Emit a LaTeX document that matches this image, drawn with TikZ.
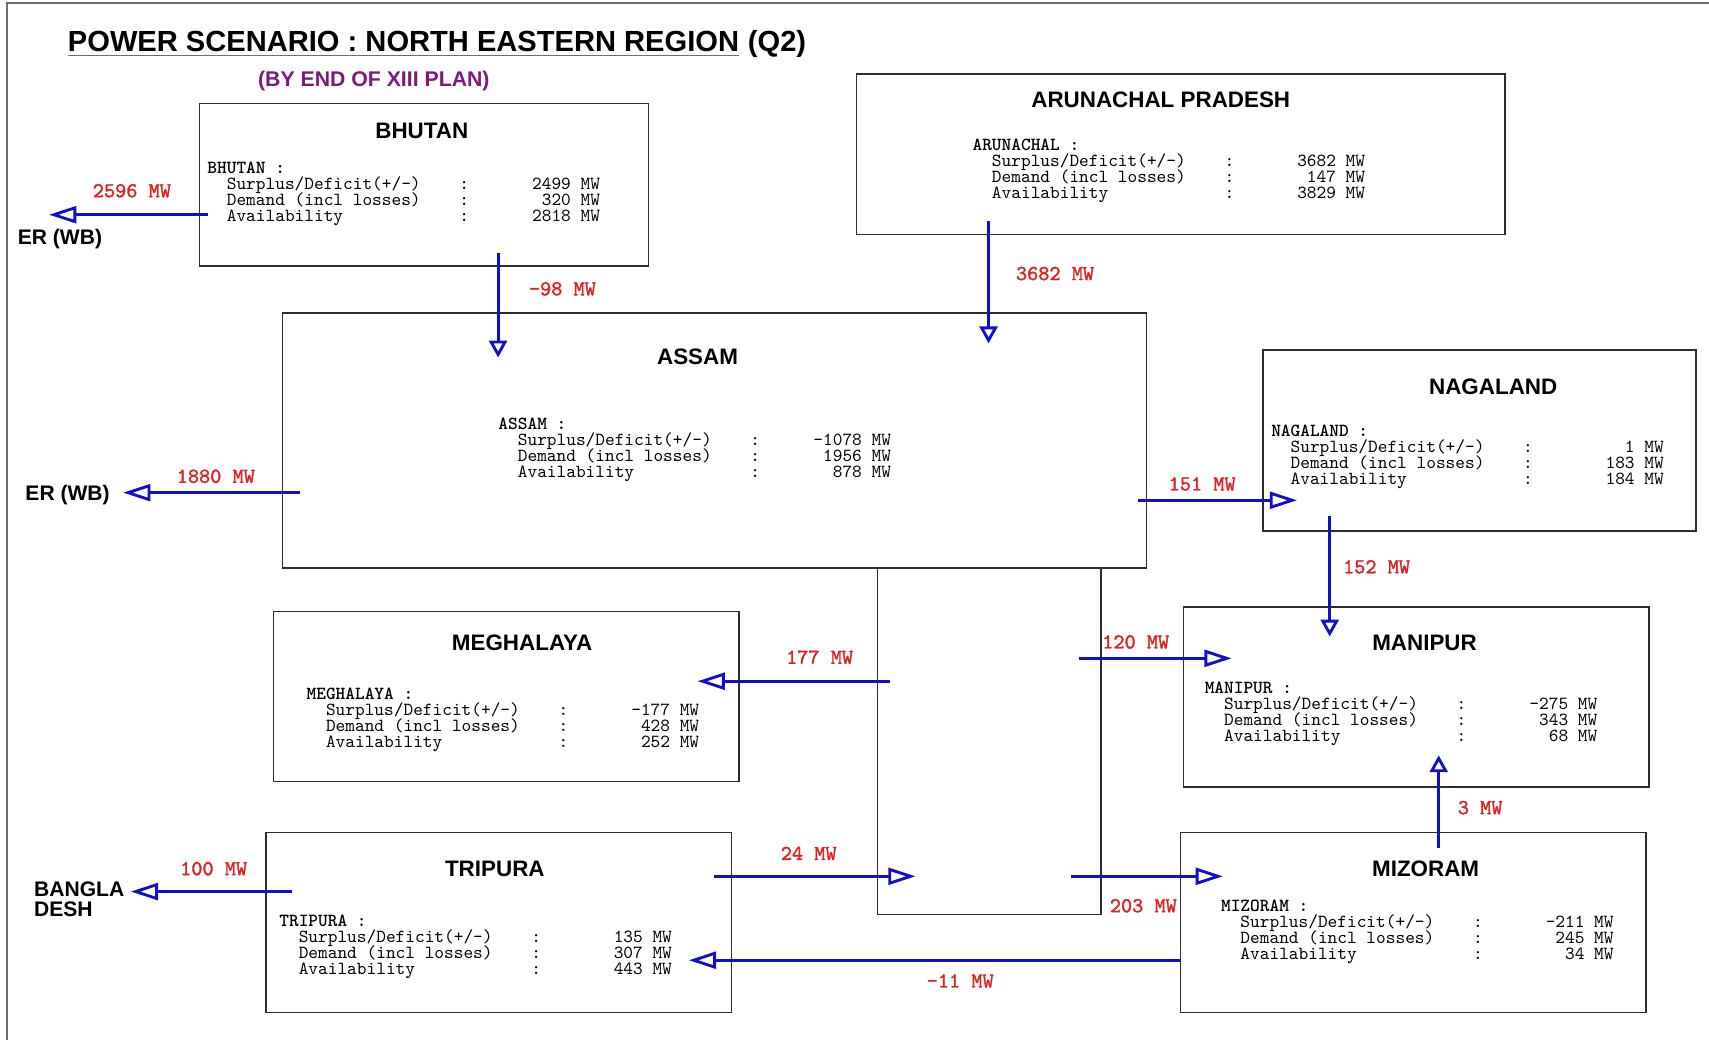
\documentclass[tikz,border=0pt]{standalone}
\usepackage{fontspec}
\setmainfont{Liberation Sans}
\newfontfamily\lblfont[FakeBold=1.6]{lmmono10-regular.otf}
\usetikzlibrary{arrows.meta, fit, calc}

\definecolor{flowblue}{RGB}{15,15,205}
\definecolor{flowred}{RGB}{222,34,34}
\definecolor{planpurple}{RGB}{125,25,125}
\definecolor{framegray}{RGB}{110,110,110}
\definecolor{boxgray}{RGB}{45,45,45}

\newlength\cw
\newcommand\statfont{\ttfamily\fontsize{9.64pt}{8.35pt}\selectfont\settowidth\cw{0}\lineskiplimit=-10pt\relax}
\newcommand\statrow[2]{\hspace*{2\cw}\makebox[24\cw][l]{#1}:\makebox[13.5\cw][r]{#2}}
\newcommand\stats[4]{{\fontseries{b}\selectfont #1 :}\\
    \statrow{Surplus/Deficit(+/-)}{#2 MW}\\
    \statrow{Demand (incl losses)}{#3 MW}\\
    \statrow{Availability}{#4 MW}}

\begin{document}
\begin{tikzpicture}[x=0.02cm, y=-0.02cm,
    heading/.style={inner sep=0pt, font=\fontsize{15.2pt}{18pt}\selectfont\bfseries},
    planlbl/.style={inner sep=0pt, text=planpurple, font=\fontsize{11.1pt}{13pt}\selectfont\bfseries},
    statebox/.style={draw=boxgray, line width=0.8pt, inner sep=0pt},
    statename/.style={font=\fontsize{11.7pt}{14pt}\selectfont\bfseries},
    statdata/.style={anchor=north west, align=left, inner sep=0pt, font=\statfont},
    extname/.style={inner sep=0pt, font=\fontsize{11pt}{10.2pt}\selectfont\bfseries},
    flowlbl/.style={text=flowred, font=\lblfont\fontsize{11.1pt}{13pt}\selectfont},
    flowh/.style={flowblue, line width=1.5pt, -{Triangle[open, length=0.5cm, width=0.31cm]}},
    flowv/.style={flowblue, line width=1.5pt, -{Triangle[open, length=0.31cm, width=0.33cm]}}]
    \useasboundingbox (0,0) rectangle (1568,954);

    % frame of the slide
    \draw[framegray, line width=1pt] (6.5,954) -- (6.5,2.5) -- (1568,2.5);

    \node[heading, anchor=base west] (ttl) at (62,47) {POWER SCENARIO : NORTH EASTERN REGION};
    \node[heading, anchor=base west] (ttlq) at (ttl.base east) {\ (Q2)};
    \draw[framegray, line width=0.6pt] ($(ttl.base west)+(0,4)$) -- ($(ttl.base east)+(0,4)$);
    \node[planlbl, anchor=base] (plan) at (343,79) {(BY END OF XIII PLAN)};

    % states
    \node[statebox, fit={(183,95) (595,244)}] (bhutan) {};
    \node[statebox, fit={(786,68) (1381,215)}] (arunachal) {};
    \node[statebox, fit={(259,287) (1052,521)}] (assam) {};
    \node[statebox, fit={(1159,321) (1556,487)}] (nagaland) {};
    \node[statebox, fit={(805,521) (1010,839)}] (hub) {};
    \node[statebox, fit={(251,561) (678,717)}] (meghalaya) {};
    \node[statebox, fit={(1086,557) (1513,722)}] (manipur) {};
    \node[statebox, fit={(244,764) (671,929)}] (tripura) {};
    \node[statebox, fit={(1083,764) (1510,929)}] (mizoram) {};

    \node[statename] (bhutanT) at (387,120) {BHUTAN};
    \node[statename] (arunachalT) at (1065,92) {ARUNACHAL PRADESH};
    \node[statename] (assamT) at (640,327) {ASSAM};
    \node[statename] (nagalandT) at (1370,355) {NAGALAND};
    \node[statename] (meghalayaT) at (479,590) {MEGHALAYA};
    \node[statename] (manipurT) at (1307,590) {MANIPUR};
    \node[statename] (tripuraT) at (454,797) {TRIPURA};
    \node[statename] (mizoramT) at (1308,797) {MIZORAM};

    \node[statdata] (bhutanD) at (190,148) {\stats{BHUTAN}{2499}{320}{2818}};
    \node[statdata] (arunachalD) at (892,127) {\stats{ARUNACHAL}{3682}{147}{3829}};
    \node[statdata] (assamD) at (457,383) {\stats{ASSAM}{-1078}{1956}{878}};
    \node[statdata] (nagalandD) at (1166,390) {\stats{NAGALAND}{1}{183}{184}};
    \node[statdata] (meghalayaD) at (281,631) {\stats{MEGHALAYA}{-177}{428}{252}};
    \node[statdata] (manipurD) at (1105,625) {\stats{MANIPUR}{-275}{343}{68}};
    \node[statdata] (tripuraD) at (256,839) {\stats{TRIPURA}{135}{307}{443}};
    \node[statdata] (mizoramD) at (1120,825) {\stats{MIZORAM}{-211}{245}{34}};

    % neighbours
    \node[extname, anchor=base west] (erwbA) at (16,224) {ER (WB)};
    \node[extname, anchor=base west] (erwbB) at (23,459) {ER (WB)};
    \node[extname, anchor=north west, align=left] (bangla) at (31,809) {BANGLA\\DESH};

    % ends of the flows
    \coordinate (bhutanW) at (191,197);   \coordinate (erwbAin) at (45,197);
    \coordinate (bhutanS) at (457,232);   \coordinate (assamNW) at (457,328);
    \coordinate (arunachalS) at (907,203);\coordinate (assamNE) at (907,315);
    \coordinate (assamW) at (275,452);    \coordinate (erwbBin) at (113,452);
    \coordinate (assamE) at (1044,459);   \coordinate (nagalandW) at (1190,459);
    \coordinate (nagalandS) at (1220,473);\coordinate (manipurN) at (1220,584);
    \coordinate (hubW) at (817,625);      \coordinate (meghalayaE) at (640,625);
    \coordinate (hubNE) at (990,604);     \coordinate (manipurW) at (1130,604);
    \coordinate (tripuraE) at (655,804);  \coordinate (hubSW) at (840,804);
    \coordinate (hubSE) at (983,804);     \coordinate (mizoramW) at (1122,804);
    \coordinate (mizoramSW) at (1083,881);\coordinate (tripuraSE) at (632,881);
    \coordinate (mizoramN) at (1320,778); \coordinate (manipurS) at (1320,693);
    \coordinate (tripuraW) at (268,818);  \coordinate (banglaE) at (120,818);

    \draw[flowh] (bhutanW) -- (erwbAin);
    \draw[flowv] (bhutanS) -- (assamNW);
    \draw[flowv] (arunachalS) -- (assamNE);
    \draw[flowh] (assamW) -- (erwbBin);
    \draw[flowh] (assamE) -- (nagalandW);
    \draw[flowv] (nagalandS) -- (manipurN);
    \draw[flowh] (hubW) -- (meghalayaE);
    \draw[flowh] (hubNE) -- (manipurW);
    \draw[flowh] (tripuraE) -- (hubSW);
    \draw[flowh] (hubSE) -- (mizoramW);
    \draw[flowh] (mizoramSW) -- (tripuraSE);
    \draw[flowv] (mizoramN) -- (manipurS);
    \draw[flowh] (tripuraW) -- (banglaE);

    \node[flowlbl] (bhutanErwbL) at (121,175) {2596 MW};
    \node[flowlbl] (bhutanAssamL) at (516,265) {-98 MW};
    \node[flowlbl] (arunachalAssamL) at (968,251) {3682 MW};
    \node[flowlbl] (assamErwbL) at (198,437) {1880 MW};
    \node[flowlbl] (assamNagalandL) at (1103,444) {151 MW};
    \node[flowlbl] (nagalandManipurL) at (1263,520) {152 MW};
    \node[flowlbl] (hubMeghalayaL) at (752,603) {177 MW};
    \node[flowlbl] (hubManipurL) at (1042,589) {120 MW};
    \node[flowlbl] (tripuraHubL) at (742,783) {24 MW};
    \node[flowlbl] (hubMizoramL) at (1049,831) {203 MW};
    \node[flowlbl] (mizoramTripuraL) at (881,900) {-11 MW};
    \node[flowlbl] (mizoramManipurL) at (1358,741) {3 MW};
    \node[flowlbl] (tripuraBanglaL) at (196,797) {100 MW};
\end{tikzpicture}
\end{document}
